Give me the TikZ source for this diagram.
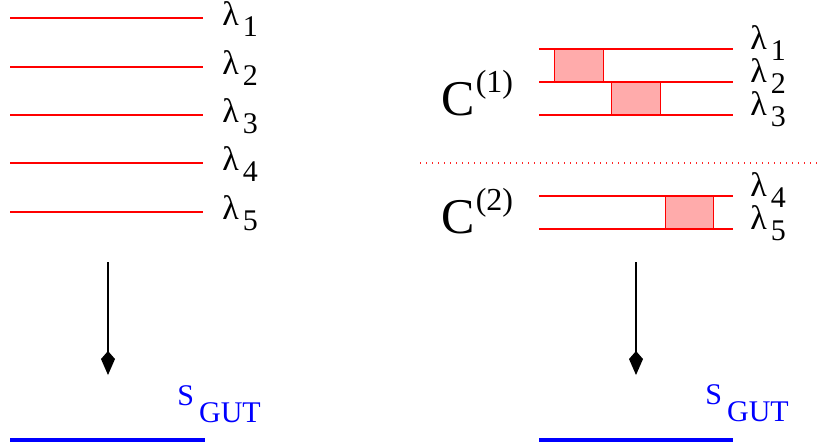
\documentclass[tikz,border=0pt]{standalone}
\usepackage{fontspec}
\setmainfont{Liberation Serif}
\usepackage{tikz}
\usetikzlibrary{arrows.meta,positioning,calc}

\newcommand{\lev}[1]{λ\hspace{2pt}\raisebox{-5.5pt}{\fontsize{15}{17}\selectfont #1}}
\newcommand{\sgut}{S\hspace{2.5pt}\raisebox{-8.5pt}{GUT}}
\newcommand{\cmix}[1]{C\hspace{0.5pt}\raisebox{11.5pt}{\fontsize{16}{18}\selectfont(#1)}}

\begin{document}
\begin{tikzpicture}[
  x=0.5pt, y=-0.5pt,
  level/.style={red, line width=1.2pt},
  gutline/.style={blue, line width=1.8pt},
  lev/.style={anchor=base west, font=\fontsize{17}{20}\selectfont, inner sep=0pt},
  cmix/.style={anchor=base west, font=\fontsize{25}{28}\selectfont, inner sep=0pt},
  gut/.style={anchor=base west, font=\fontsize{15}{17}\selectfont, text=blue, inner sep=0pt},
  blk/.style={draw=red, line width=0.5pt, fill=red!33},
  arr/.style={-{Kite[length=12pt, width=7pt, inset=4pt]}, line width=1pt}
]
  \useasboundingbox (0,0) rectangle (822,447);

  % left: five separate levels
  \foreach \i/\y in {1/18, 2/67, 3/115, 4/163, 5/212} {
    \draw[level] (10,\y) coordinate (la\i) -- (203,\y) coordinate (lb\i);
    \node[lev] (ll\i) at ($(lb\i)+(19,7)$) {\lev{\i}};
  }

  % right: mixing blocks
  \draw[blk] (554,49) rectangle (603,82);
  \draw[blk] (611,82) rectangle (660,115);
  \draw[blk] (665,196) rectangle (713,229);

  \foreach \i/\y in {1/49, 2/82, 3/115, 4/196, 5/229} {
    \draw[level] (539,\y) coordinate (ra\i) -- (733,\y) coordinate (rb\i);
    \node[lev] (rl\i) at ($(rb\i)+(17,0)$) {\lev{\i}};
  }

  \node[cmix] (c1) at (441,115) {\cmix{1}};
  \node[cmix] (c2) at (441,233) {\cmix{2}};

  % separator
  \draw[red!85, line width=0.7pt, dash pattern=on 0.6pt off 2.4pt] (420,163) coordinate (sa) -- (822,163) coordinate (sb);

  % flow down to the GUT scale
  \coordinate (ta) at (108,262);
  \coordinate (tb) at (108,375);
  \coordinate (ua) at (636,262);
  \coordinate (ub) at (636,375);
  \draw[arr] (ta) -- (tb);
  \draw[arr] (ua) -- (ub);

  \draw[gutline] (10,440) coordinate (ga) -- (205,440) coordinate (gb);
  \draw[gutline] (539,440) coordinate (ha) -- (733,440) coordinate (hb);
  \node[gut] (gl) at (177,405) {\sgut};
  \node[gut] (gr) at (705,404) {\sgut};
\end{tikzpicture}
\end{document}
